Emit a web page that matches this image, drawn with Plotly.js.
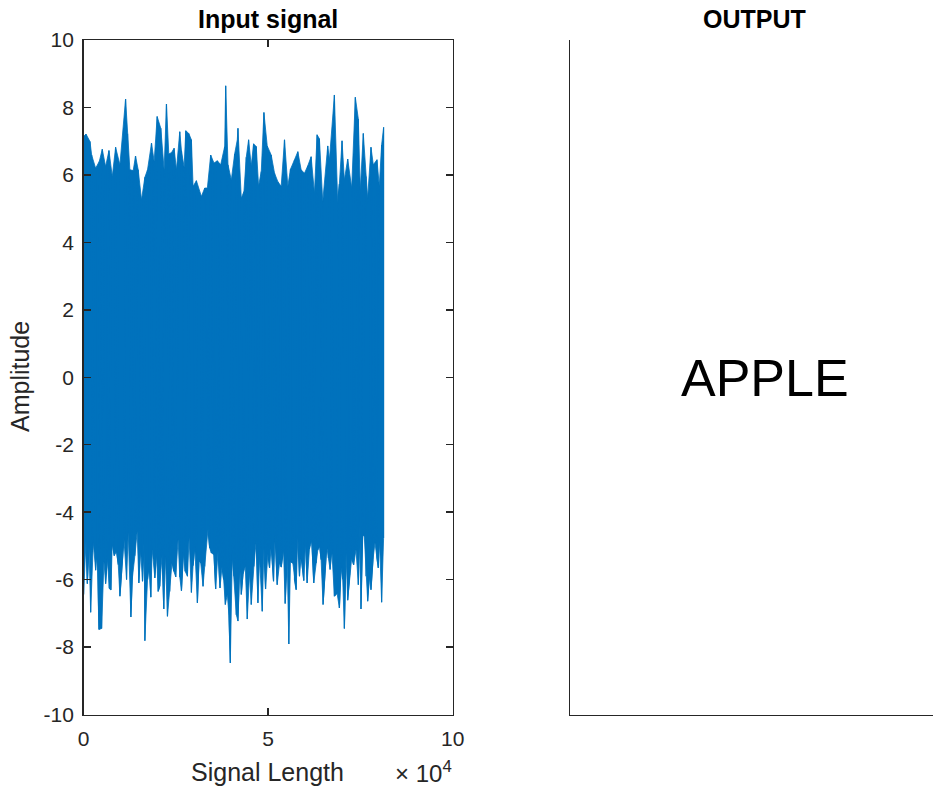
<!DOCTYPE html>
<html><head><meta charset="utf-8">
<script src="https://cdn.plot.ly/plotly-3.0.1.min.js"></script>
<style>html,body{margin:0;padding:0;background:#fff}#chart{width:933px;height:794px}</style>
</head><body><div id="chart"></div>
<script>
// Upper peaks of the input signal (sample index, amplitude)
const topX = [0,650,1730,2180,3260,4250,5060,5960,6870,7770,8670,9840,11370,11910,12540,13440,14070,14790,15690,16600,17320,18400,19120,19930,20920,21820,22450,23080,23800,24520,25150,26050,26510,27230,27680,28490,29210,29660,30560,31910,32810,33530,34430,35330,36240,37140,38220,38490,39120,40020,40920,41640,41820,42720,43440,44070,44700,45420,46050,46780,47410,48130,48850,49750,50830,51730,52630,53530,54430,55330,56050,57140,58040,58940,59840,60740,61640,62540,63260,63890,64790,66140,66600,67950,68850,69300,70020,70650,71550,72630,73620,74430,74970,75780,76510,76960,77860,78490,79480,80110,80740,81280];
const topY = [7.14,7.21,6.99,6.59,6.20,6.40,6.76,6.25,6.72,5.95,6.82,6.30,8.25,7.22,6.15,6.13,6.56,6.15,5.26,5.93,6.15,6.94,6.40,7.73,7.38,6.15,8.10,6.62,6.66,6.79,6.15,7.28,6.72,6.23,7.31,7.23,7.04,5.66,5.83,5.36,5.61,5.61,6.59,6.35,6.42,6.30,6.84,8.64,6.30,5.85,6.62,7.04,7.38,5.31,5.51,6.52,7.04,6.27,6.92,6.84,5.67,6.10,7.85,6.86,6.59,6.05,5.80,5.66,7.04,5.66,6.17,6.45,6.69,6.15,6.05,6.27,6.54,5.46,7.19,7.07,5.21,6.86,6.45,8.37,5.16,5.73,7.01,5.85,6.47,5.61,8.30,7.66,5.56,7.23,5.95,5.31,6.82,6.30,6.45,5.67,6.89,7.41];
// Lower troughs of the input signal
const botX = [0,650,1010,1460,1910,2630,3260,3710,4160,4880,5510,5960,6420,6960,7410,7770,8310,8940,9390,9840,10470,10920,11640,12090,12810,13170,13890,14520,14970,15420,15960,16420,16600,17320,17770,18220,18580,19300,19750,20200,20650,21280,21730,22180,22720,23350,23980,24430,24970,25600,26050,26510,27050,27500,28130,28580,29210,29660,30110,30830,31280,31730,32360,32810,33710,34160,34610,35330,35780,36420,36960,37500,37950,38400,38940,39390,39750,40290,40740,41370,41820,42270,42720,43170,43800,44340,44970,45420,46140,46780,47230,47680,48400,48850,49300,49930,50380,50830,51460,51910,52450,53080,53530,54160,54610,55150,55600,56050,56690,57140,57590,58040,58490,58940,59660,60110,60560,61190,61820,62360,62990,63440,63980,64340,64880,65420,65870,66330,66780,67230,67950,68670,69300,69750,70200,70650,71100,71550,72090,72630,73170,73800,74430,74880,75150,75600,76050,76510,76960,77410,77860,78400,78940,79480,79840,80200,80740,81280];
const botY = [-6.44,-4.86,-6.12,-5.01,-6.97,-4.91,-5.72,-4.96,-7.48,-7.45,-5.46,-6.12,-5.36,-6.25,-6.30,-4.91,-5.29,-5.16,-5.56,-6.49,-5.51,-4.77,-6.00,-4.60,-7.11,-6.00,-5.29,-4.57,-6.10,-5.06,-6.05,-4.77,-7.81,-6.00,-5.51,-6.52,-5.11,-5.95,-5.21,-6.35,-6.18,-5.26,-6.87,-5.31,-7.09,-6.35,-5.46,-5.75,-5.92,-4.80,-5.92,-6.33,-5.19,-5.75,-5.90,-4.77,-6.38,-5.59,-5.01,-6.69,-5.36,-5.51,-6.20,-5.61,-4.50,-5.06,-5.21,-5.26,-6.28,-5.16,-6.25,-5.61,-6.00,-6.74,-6.44,-7.07,-8.47,-5.26,-5.90,-7.04,-7.23,-5.56,-6.44,-5.85,-5.61,-7.17,-5.80,-6.74,-5.61,-4.83,-6.69,-5.36,-6.94,-5.06,-6.28,-5.23,-5.65,-4.99,-6.05,-4.70,-6.15,-5.51,-5.63,-5.11,-6.71,-5.33,-7.91,-5.46,-5.51,-6.00,-6.30,-4.74,-5.90,-5.31,-6.03,-4.84,-6.10,-5.09,-4.84,-6.10,-5.51,-5.13,-5.01,-5.41,-6.74,-5.92,-5.01,-5.36,-5.70,-5.09,-6.49,-6.40,-6.84,-5.65,-6.00,-7.45,-5.21,-6.61,-5.85,-5.36,-5.56,-5.11,-6.15,-4.42,-6.87,-4.67,-4.72,-5.90,-6.64,-5.90,-6.30,-5.41,-4.91,-5.36,-5.65,-4.91,-6.67,-4.77];

const yTickVals = [-10,-8,-6,-4,-2,0,2,4,6,8,10];
const yTickText = ['-10','-8','-6','-4','-2','0','2','4','6','8','10'];
const xTickVals = [0,50000,100000];
const xTickText = ['0','5','10'];
const leftTitle = 'Input signal';
const rightTitle = 'OUTPUT';
const xLabel = 'Signal Length';
const yLabel = 'Amplitude';
const outputWord = 'APPLE';

// merge peaks and troughs in sample order so the line swings between them
const pts = [];
topX.forEach((x, i) => pts.push([x, topY[i], 0]));
botX.forEach((x, i) => pts.push([x, botY[i], 1]));
pts.sort((a, b) => (a[0] - b[0]) || (a[2] - b[2]));

const FONT = '"Liberation Sans", Arial, Helvetica, sans-serif';
const AX = '#262626';
const BLUE = '#0072BD';

const traces = [
  {type: 'scatter', mode: 'lines', x: botX, y: botY,
   line: {color: BLUE, width: 0.8}, xaxis: 'x', yaxis: 'y', hoverinfo: 'skip'},
  {type: 'scatter', mode: 'lines', x: topX, y: topY, fill: 'tonexty', fillcolor: BLUE,
   line: {color: BLUE, width: 0.8}, xaxis: 'x', yaxis: 'y', hoverinfo: 'skip'},
  {type: 'scatter', mode: 'lines', x: pts.map(p => p[0]), y: pts.map(p => p[1]),
   line: {color: BLUE, width: 1.2}, xaxis: 'x', yaxis: 'y', hoverinfo: 'skip'},
  // empty panel that holds the recognised word
  {type: 'scatter', mode: 'markers', x: [], y: [], xaxis: 'x2', yaxis: 'y2', hoverinfo: 'skip'}
];

const L = [83.6, 452.7], R = [570, 933], W = 933, H = 794;
const yDom = [(H - 714.5) / H, (H - 40) / H];

const layout = {
  width: W, height: H,
  margin: {l: 0, r: 0, t: 0, b: 0},
  paper_bgcolor: '#fff', plot_bgcolor: '#fff',
  showlegend: false,
  font: {family: FONT, color: AX, size: 21},
  xaxis: {
    domain: [L[0] / W, L[1] / W], range: [0, 100000],
    tickvals: xTickVals, ticktext: xTickText,
    ticks: 'inside', ticklen: 7, tickwidth: 1.5, tickcolor: AX,
    showline: true, linecolor: AX, linewidth: 1.5, mirror: 'ticks',
    showgrid: false, zeroline: false,
    tickfont: {family: FONT, size: 21, color: AX}, ticklabelstandoff: 5
  },
  yaxis: {
    domain: yDom, range: [-10, 10],
    tickvals: yTickVals, ticktext: yTickText,
    ticks: 'inside', ticklen: 7, tickwidth: 1.5, tickcolor: AX,
    showline: true, linecolor: AX, linewidth: 1.5, mirror: 'ticks',
    showgrid: false, zeroline: false,
    tickfont: {family: FONT, size: 21, color: AX}, ticklabelstandoff: 4
  },
  xaxis2: {
    domain: [R[0] / W, R[1] / W], range: [0, 1], anchor: 'y2',
    showline: true, linecolor: AX, linewidth: 1.5,
    showticklabels: false, ticks: '', showgrid: false, zeroline: false
  },
  yaxis2: {
    domain: yDom, range: [-10, 10], anchor: 'x2',
    showline: true, linecolor: AX, linewidth: 1.5,
    showticklabels: false, ticks: '', showgrid: false, zeroline: false
  },
  annotations: [
    {xref: 'paper', yref: 'paper', x: ((L[0] + L[1]) / 2) / W, y: (H - 19) / H,
     text: '<b>' + leftTitle + '</b>', showarrow: false, xanchor: 'center', yanchor: 'middle',
     font: {family: FONT, size: 25, color: '#000'}},
    {xref: 'paper', yref: 'paper', x: 754 / W, y: (H - 19) / H,
     text: '<b>' + rightTitle + '</b>', showarrow: false, xanchor: 'center', yanchor: 'middle',
     font: {family: FONT, size: 25, color: '#000'}},
    {xref: 'paper', yref: 'paper', x: 267 / W, y: (H - 772) / H,
     text: xLabel, showarrow: false, xanchor: 'center', yanchor: 'middle',
     font: {family: FONT, size: 25, color: AX}},
    {xref: 'paper', yref: 'paper', x: 393 / W, y: (H - 772) / H,
     text: '\u00d7 10<sup>4</sup>', showarrow: false, xanchor: 'left', yanchor: 'middle',
     font: {family: FONT, size: 24, color: AX}},
    {xref: 'paper', yref: 'paper', x: 20 / W, y: (H - 377) / H,
     text: yLabel, showarrow: false, textangle: -90, xanchor: 'center', yanchor: 'middle',
     font: {family: FONT, size: 25, color: AX}},
    {xref: 'paper', yref: 'paper', x: 764.5 / W, y: (H - 378) / H,
     text: outputWord, showarrow: false, xanchor: 'center', yanchor: 'middle',
     font: {family: FONT, size: 52, color: '#000'}}
  ]
};

Plotly.newPlot('chart', traces, layout, {staticPlot: true, displayModeBar: false});
</script>
</body></html>
